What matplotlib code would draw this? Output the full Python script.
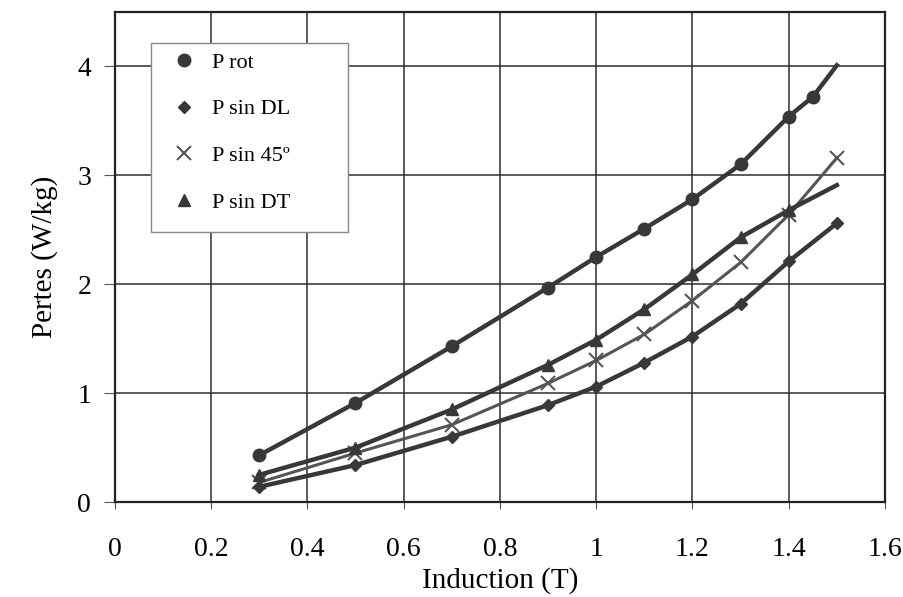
import numpy as np
import matplotlib.pyplot as plt
from matplotlib.patches import Rectangle

plt.rcParams['font.family'] = ['Liberation Serif', 'DejaVu Serif']

# induction (T)
b_rot = [0.3, 0.5, 0.7, 0.9, 1.0, 1.1, 1.2, 1.3, 1.4, 1.45, 1.5]
p_rot = [0.43, 0.91, 1.43, 1.97, 2.25, 2.51, 2.78, 3.10, 3.54, 3.72, 4.01]

b_sin = [0.3, 0.5, 0.7, 0.9, 1.0, 1.1, 1.2, 1.3, 1.4, 1.5]
p_dl = [0.14, 0.34, 0.60, 0.89, 1.06, 1.28, 1.52, 1.82, 2.21, 2.56]
p_45 = [0.18, 0.45, 0.71, 1.09, 1.30, 1.54, 1.85, 2.20, 2.64, 3.16]
p_dt = [0.25, 0.50, 0.85, 1.26, 1.49, 1.77, 2.09, 2.43, 2.68, 2.91]

xticks = [0, 0.2, 0.4, 0.6, 0.8, 1, 1.2, 1.4, 1.6]
xticklabels = ['0', '0.2', '0.4', '0.6', '0.8', '1', '1.2', '1.4', '1.6']
yticks = [0, 1, 2, 3, 4]

col = '#383838'

fig = plt.figure(figsize=(9.04, 5.97), dpi=100)
ax = fig.add_axes([0.127, 0.159, 0.852, 0.821])

ax.plot(b_rot, p_rot, '-', color=col, lw=3.2, marker='o', ms=9,
        markevery=list(range(len(b_rot) - 1)), label='P rot', zorder=4)
ax.plot(b_sin, p_dl, '-', color=col, lw=3.2, marker='D', ms=6.5,
        label='P sin DL', zorder=4)
ax.plot(b_sin, p_45, '-', color='#555555', lw=2.2, marker='x', ms=10,
        mew=1.5, label='P sin 45º', zorder=3)
ax.plot(b_sin, p_dt, '-', color=col, lw=3.2, marker='^', ms=9,
        markevery=list(range(len(b_sin) - 1)), label='P sin DT', zorder=4)

ax.set_xlim(0, 1.6)
ax.set_ylim(0, 4.5)
ax.set_xticks(xticks)
ax.set_xticklabels(xticklabels)
ax.set_yticks(yticks)
ax.grid(True, color='#2e2e2e', lw=1.1)
ax.set_axisbelow(True)
for s in ax.spines.values():
    s.set_linewidth(1.6)
    s.set_color('#222222')

ax.tick_params(axis='x', labelsize=20, length=5, pad=20, color='#555555')
ax.tick_params(axis='y', labelsize=20, length=8, pad=9, color='#555555')

ax.set_xlabel('Induction (T)', fontsize=21, labelpad=4)
ax.set_ylabel('Pertes (W/kg)', fontsize=21, labelpad=14)

# legend box drawn separately (wider than the entries)
box = Rectangle((0.047, 0.551), 0.256, 0.386, transform=ax.transAxes,
                facecolor='white', edgecolor='#888888', lw=1.0, zorder=5)
ax.add_patch(box)

leg = ax.legend(loc='upper left', bbox_to_anchor=(0.073, 0.918), fontsize=16,
                frameon=False, borderpad=0, labelspacing=1.18,
                handlelength=1.2, handletextpad=0.65, borderaxespad=0)
leg.set_zorder(6)
for h in leg.legend_handles:
    h.set_linestyle('None')

plt.savefig('out.png', dpi=100)
